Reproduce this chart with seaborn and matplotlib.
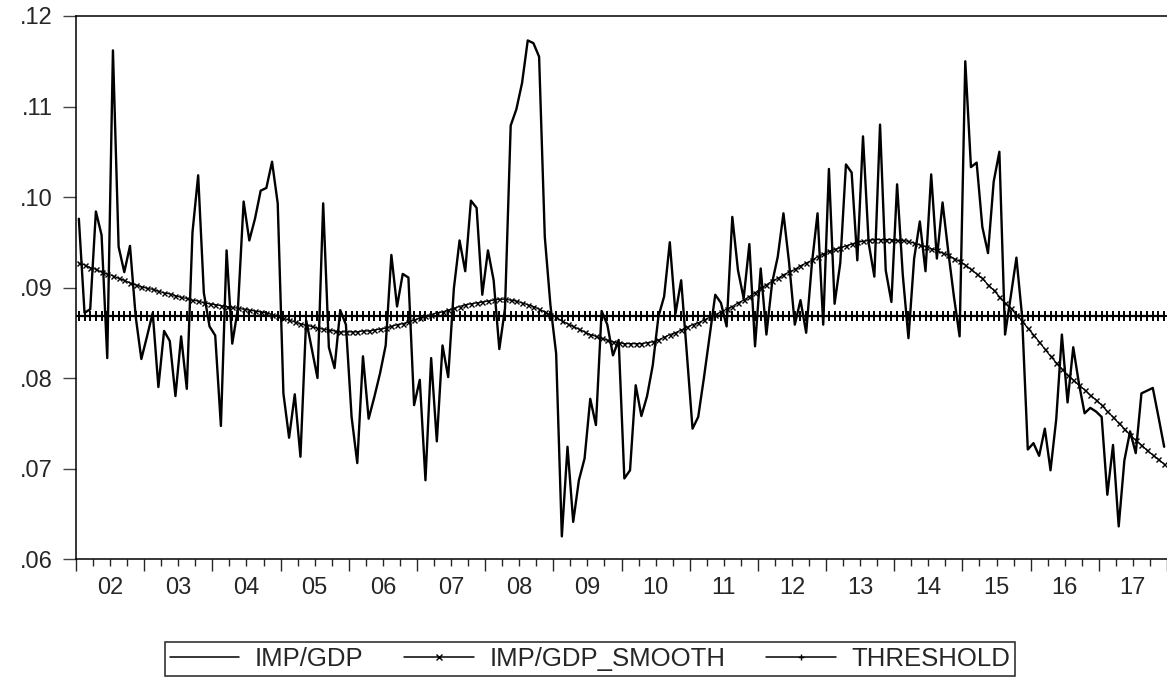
import numpy as np
import pandas as pd
import matplotlib
matplotlib.use("Agg")
import matplotlib.pyplot as plt
import matplotlib.ticker as mticker
import seaborn as sns

# ---------------- data (monthly, 2002m01 - 2017m12) ----------------
start_year = 2002
end_year = 2017

imp_gdp = [
    0.0976, 0.0872, 0.0876, 0.0984, 0.0958, 0.0822, 0.1162, 0.0945, 0.0917, 0.0946, 0.0868, 0.0821,
    0.0846, 0.0872, 0.0790, 0.0852, 0.0841, 0.0780, 0.0846, 0.0788, 0.0961, 0.1024, 0.0894, 0.0857,
    0.0847, 0.0747, 0.0941, 0.0838, 0.0877, 0.0995, 0.0952, 0.0976, 0.1007, 0.1010, 0.1039, 0.0993,
    0.0783, 0.0734, 0.0782, 0.0713, 0.0864, 0.0832, 0.0800, 0.0993, 0.0834, 0.0811, 0.0875, 0.0859,
    0.0757, 0.0706, 0.0824, 0.0755, 0.0779, 0.0805, 0.0836, 0.0936, 0.0879, 0.0915, 0.0911, 0.0770,
    0.0798, 0.0687, 0.0822, 0.0730, 0.0836, 0.0801, 0.0899, 0.0952, 0.0918, 0.0996, 0.0988, 0.0892,
    0.0941, 0.0908, 0.0832, 0.0877, 0.1079, 0.1097, 0.1126, 0.1173, 0.1170, 0.1155, 0.0956, 0.0880,
    0.0827, 0.0625, 0.0724, 0.0641, 0.0687, 0.0711, 0.0777, 0.0748, 0.0874, 0.0859, 0.0825, 0.0842,
    0.0689, 0.0698, 0.0792, 0.0758, 0.0780, 0.0814, 0.0868, 0.0890, 0.0950, 0.0871, 0.0908, 0.0827,
    0.0744, 0.0757, 0.0800, 0.0846, 0.0892, 0.0883, 0.0857, 0.0978, 0.0919, 0.0888, 0.0948, 0.0835,
    0.0921, 0.0848, 0.0905, 0.0934, 0.0982, 0.0927, 0.0859, 0.0886, 0.0850, 0.0926, 0.0982, 0.0859,
    0.1031, 0.0882, 0.0927, 0.1036, 0.1027, 0.0930, 0.1067, 0.0949, 0.0912, 0.1080, 0.0919, 0.0884,
    0.1014, 0.0914, 0.0844, 0.0932, 0.0973, 0.0918, 0.1025, 0.0932, 0.0994, 0.0940, 0.0890, 0.0846,
    0.1150, 0.1033, 0.1038, 0.0967, 0.0938, 0.1017, 0.1050, 0.0848, 0.0890, 0.0933, 0.0868, 0.0721,
    0.0728, 0.0714, 0.0744, 0.0698, 0.0754, 0.0848, 0.0773, 0.0834, 0.0794, 0.0761, 0.0767, 0.0763,
    0.0757, 0.0671, 0.0726, 0.0636, 0.0709, 0.0741, 0.0717, 0.0783, 0.0786, 0.0789, 0.0757, 0.0724,
]

imp_gdp_smooth = [
    0.0927, 0.0925, 0.0922, 0.0920, 0.0917, 0.0915, 0.0913, 0.0910, 0.0908, 0.0905, 0.0903, 0.0901,
    0.0899, 0.0898, 0.0896, 0.0894, 0.0893, 0.0891, 0.0889, 0.0888, 0.0886, 0.0885, 0.0883, 0.0882,
    0.0881, 0.0880, 0.0879, 0.0878, 0.0877, 0.0876, 0.0875, 0.0874, 0.0873, 0.0872, 0.0870, 0.0868,
    0.0866, 0.0864, 0.0862, 0.0860, 0.0858, 0.0857, 0.0855, 0.0854, 0.0853, 0.0852, 0.0851, 0.0851,
    0.0851, 0.0851, 0.0852, 0.0852, 0.0853, 0.0854, 0.0855, 0.0857, 0.0859, 0.0860, 0.0862, 0.0864,
    0.0866, 0.0868, 0.0870, 0.0872, 0.0873, 0.0875, 0.0877, 0.0879, 0.0881, 0.0882, 0.0883, 0.0884,
    0.0885, 0.0886, 0.0887, 0.0887, 0.0886, 0.0885, 0.0883, 0.0881, 0.0879, 0.0876, 0.0873, 0.0870,
    0.0867, 0.0863, 0.0860, 0.0857, 0.0854, 0.0851, 0.0848, 0.0846, 0.0844, 0.0842, 0.0840, 0.0839,
    0.0838, 0.0838, 0.0838, 0.0838, 0.0839, 0.0840, 0.0842, 0.0845, 0.0848, 0.0850, 0.0853, 0.0856,
    0.0859, 0.0861, 0.0864, 0.0867, 0.0870, 0.0873, 0.0876, 0.0879, 0.0883, 0.0886, 0.0890, 0.0894,
    0.0899, 0.0903, 0.0907, 0.0910, 0.0914, 0.0917, 0.0920, 0.0924, 0.0927, 0.0930, 0.0934, 0.0937,
    0.0940, 0.0942, 0.0944, 0.0946, 0.0948, 0.0950, 0.0951, 0.0952, 0.0953, 0.0953, 0.0953, 0.0953,
    0.0952, 0.0952, 0.0951, 0.0949, 0.0947, 0.0945, 0.0943, 0.0941, 0.0938, 0.0936, 0.0932, 0.0929,
    0.0925, 0.0920, 0.0915, 0.0910, 0.0903, 0.0897, 0.0890, 0.0883, 0.0877, 0.0870, 0.0863, 0.0855,
    0.0848, 0.0840, 0.0832, 0.0824, 0.0817, 0.0810, 0.0803, 0.0798, 0.0792, 0.0787, 0.0781, 0.0776,
    0.0770, 0.0763, 0.0757, 0.0750, 0.0744, 0.0737, 0.0731, 0.0726, 0.0720, 0.0715, 0.0710, 0.0705,
]

threshold_value = 0.0869
year_labels = [f"{y % 100:02d}" for y in range(start_year, end_year + 1)]
series_names = ["IMP/GDP", "IMP/GDP_SMOOTH", "THRESHOLD"]

# ---------------- frame ----------------
periods = pd.period_range(f"{start_year}-01", f"{end_year}-12", freq="M")
t = periods.year + (periods.month - 0.5) / 12.0   # mid-month decimal year
df = pd.DataFrame({
    "t": t,
    series_names[0]: imp_gdp,
    series_names[1]: imp_gdp_smooth,
    series_names[2]: [threshold_value] * len(periods),
})

sns.set_style("ticks")
plt.rcParams["font.family"] = ["Liberation Sans", "DejaVu Sans"]

W, H = 1167, 680
fig = plt.figure(figsize=(W / 100, H / 100), dpi=100)
left_px, right_px, top_px, bottom_px = 76, 1167, 16, 559
ax = fig.add_axes([left_px / W, 1 - bottom_px / H,
                   (right_px - left_px) / W, (bottom_px - top_px) / H])

sns.lineplot(data=df, x="t", y=series_names[0], ax=ax, color="black",
             linewidth=1.7, label=series_names[0])
sns.lineplot(data=df, x="t", y=series_names[1], ax=ax, color="black",
             linewidth=0.9, marker="x", markersize=3.6, markeredgewidth=1.0,
             markeredgecolor="black", markerfacecolor="black",
             label=series_names[1])
sns.lineplot(data=df, x="t", y=series_names[2], ax=ax, color="black",
             linewidth=1.6, marker="+", markersize=7.5, markeredgewidth=1.4,
             markeredgecolor="black", markerfacecolor="black",
             label=series_names[2])

ax.set_xlim(start_year, end_year + 1)
ax.set_ylim(0.06, 0.12)
ax.set_xlabel("")
ax.set_ylabel("")

# y axis
ax.yaxis.set_major_locator(mticker.MultipleLocator(0.01))
ax.yaxis.set_major_formatter(
    mticker.FuncFormatter(lambda v, p: "." + f"{int(round(v * 100)):02d}"))
ax.tick_params(axis="y", which="major", length=9.5, width=1.0, color="#444444",
               direction="out", labelsize=17, pad=7)

# x axis: major ticks at year starts, minor at quarters, labels mid-year
years = np.arange(start_year, end_year + 2)
ax.xaxis.set_major_locator(mticker.FixedLocator(years))
ax.xaxis.set_major_formatter(mticker.NullFormatter())
quarters = [y + q / 4 for y in range(start_year, end_year + 1) for q in (1, 2, 3)]
ax.xaxis.set_minor_locator(mticker.FixedLocator(quarters))
label_map = {y + 0.5: lab for y, lab in zip(range(start_year, end_year + 1), year_labels)}


def minor_fmt(v, p):
    for k, lab in label_map.items():
        if abs(v - k) < 1e-6:
            return lab
    return ""


ax.xaxis.set_minor_formatter(mticker.FuncFormatter(minor_fmt))
ax.tick_params(axis="x", which="major", length=8.6, width=1.0, direction="out")
ax.tick_params(axis="x", which="minor", length=5, width=1.0, direction="out",
               labelsize=17, pad=8)

for side in ("left", "top", "bottom"):
    ax.spines[side].set_visible(True)
    ax.spines[side].set_color("black")
    ax.spines[side].set_linewidth(1.1)
ax.spines["right"].set_visible(False)
ax.grid(False)

# legend
handles, labels = ax.get_legend_handles_labels()
ax.get_legend().remove()
leg = fig.legend(handles, labels, loc="upper center",
                 bbox_to_anchor=(590 / W, 1 - 642 / H), ncol=3,
                 frameon=True, fancybox=False, shadow=False,
                 edgecolor="black", fontsize=18.5, handlelength=2.7,
                 handletextpad=0.6, columnspacing=1.6, borderpad=0.2,
                 borderaxespad=0)
leg.get_frame().set_linewidth(1.2)
for h in leg.legend_handles:
    h.set_linewidth(1.1)
    h.set_markersize(4.5)
    h.set_markeredgewidth(1.0)

fig.savefig("out.png", dpi=100, facecolor="white")
